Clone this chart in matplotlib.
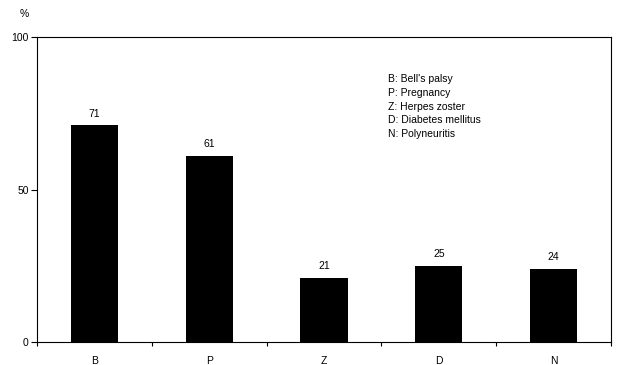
import matplotlib.pyplot as plt

plt.rcParams['font.family'] = ['Liberation Sans', 'DejaVu Sans']

categories = ["B", "P", "Z", "D", "N"]
values = [71, 61, 21, 25, 24]
legend_lines = ["B: Bell's palsy", "P: Pregnancy", "Z: Herpes zoster",
                "D: Diabetes mellitus", "N: Polyneuritis"]

fig = plt.figure(figsize=(6.17, 3.65), dpi=100)
ax = fig.add_axes([37 / 617, 23 / 365, 574 / 617, 305 / 365])

x = list(range(len(categories)))
bars = ax.bar(x, values, width=0.41, color="black")
for xi, v in zip(x, values):
    ax.text(xi, v + 2.2, str(v), ha="center", va="bottom", fontsize=7.5)

ax.set_xlim(-0.5, len(categories) - 0.5)
ax.set_ylim(0, 100)
ax.set_yticks([0, 50, 100])
ax.tick_params(axis="y", labelsize=7.5, length=4, width=0.8, pad=2)

# category labels between boundary ticks
ax.set_xticks([i + 0.5 for i in range(-1, len(categories))])
ax.set_xticklabels([])
ax.set_xticks(x, minor=True)
ax.set_xticklabels(categories, minor=True, fontsize=7.5)
ax.tick_params(axis="x", which="minor", length=0, pad=10)
ax.tick_params(axis="x", which="major", length=3, width=0.8)

for s in ax.spines.values():
    s.set_linewidth(0.8)

fig.text(24 / 617, 1 - 14 / 365, "%", ha="center", va="center", fontsize=7.5)

y0 = 79
for i, line in enumerate(legend_lines):
    fig.text(388 / 617, 1 - (y0 + i * 13.8) / 365, line,
             ha="left", va="center", fontsize=7.5)

fig.savefig("out.png", dpi=100)
